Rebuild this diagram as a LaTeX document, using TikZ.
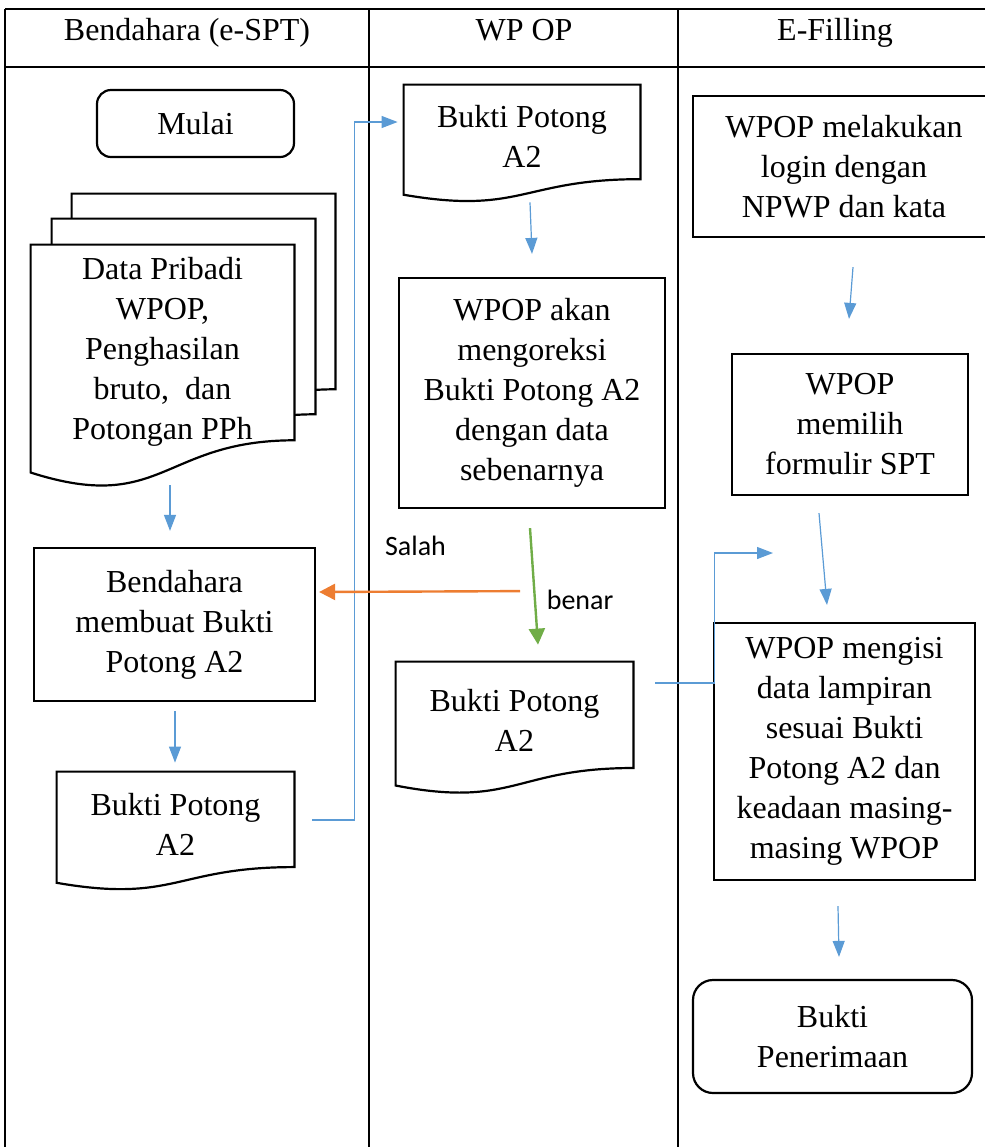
\documentclass[tikz,border=0pt]{standalone}
\usepackage{fontspec}
\setmainfont{Liberation Serif}
\newfontfamily\labelfont{Carlito}
\usetikzlibrary{arrows.meta, calc}
\definecolor{biru}{HTML}{5B9BD5}
\definecolor{oranye}{HTML}{ED7D31}
\definecolor{hijau}{HTML}{70AD47}
\pgfdeclarelayer{latar}
\pgfsetlayers{latar,main}
\tikzset{
	teks/.style={align=center, font=\fontsize{16}{20}\selectfont, inner sep=0pt}, % isi kotak
	kotak/.style={teks, draw, line width=1.1pt}, % kotak proses
	terminal/.style={kotak, rounded corners=7pt}, % mulai / selesai
	dokumen/.style={teks}, % tepinya digambar di lapisan latar
	judul/.style={teks, anchor=base}, % kepala kolom
	garis/.style={line width=1.1pt},
	tabel/.style={line width=0.8pt},
	panah/.style={draw=biru, line width=0.6pt, -{Triangle[length=8pt, width=6pt]}},
	panahtebal/.style={line width=1.2pt, -{Triangle[length=8pt, width=8pt]}},
	ket/.style={font=\labelfont\fontsize{14}{16}\selectfont},
}
\begin{document}
\begin{tikzpicture}[x=0.5pt, y=-0.5pt]
	\useasboundingbox (0,0) rectangle (985,1147);
	% tabel
	\draw[tabel] (5,9) -- (990,9) (5,67) -- (990,67);
	\draw[tabel] (5,9) -- (5,1150) (369,9) -- (369,1150) (678,9) -- (678,1150);
	\node[judul] (h1) at (187,40) {Bendahara (e-SPT)};
	\node[judul] (h2) at (524,40) {WP OP};
	\node[judul] (h3) at (835,40) {E-Filling};

	% Bendahara
	\node[terminal, minimum width=98.5pt, minimum height=33.5pt] (mulai) at (195.5,123.5) {Mulai};
	\node[dokumen, minimum width=131.5pt, minimum height=107pt] (data3) at (203.5,301) {};
	\node[dokumen, minimum width=131.5pt, minimum height=107pt] (data2) at (183.5,326) {};
	\node[dokumen, minimum width=131.5pt, minimum height=107pt] (data1) at (162.5,352) {Data Pribadi\\WPOP,\\Penghasilan\\bruto,\ \ dan\\Potongan PPh};
	\node[kotak, minimum width=140.5pt, minimum height=76.5pt] (bendahara) at (174.5,624.5) {Bendahara\\membuat Bukti\\Potong A2};
	\node[dokumen, minimum width=118.5pt, minimum height=52pt] (bpa) at (175.5,824) {Bukti Potong\\A2};

	% WP OP
	\node[dokumen, minimum width=118pt, minimum height=51.5pt] (bpb) at (522,136.5) {Bukti Potong\\A2};
	\node[kotak, minimum width=133pt, minimum height=115pt] (koreksi) at (532,393) {WPOP akan\\mengoreksi\\Bukti Potong A2\\dengan data\\sebenarnya};
	\node[dokumen, minimum width=118.5pt, minimum height=58pt] (bpc) at (514.5,720) {Bukti Potong\\A2};

	% E-Filling
	\node[kotak, minimum width=151pt, minimum height=70.5pt] (login) at (844,166.5) {WPOP melakukan\\login dengan\\NPWP dan kata};
	\node[kotak, minimum width=118pt, minimum height=70.5pt] (memilih) at (850,424.5) {WPOP\\memilih\\formulir SPT};
	\node[kotak, minimum width=130.5pt, minimum height=128.5pt] (mengisi) at (844.5,751.5) {WPOP mengisi\\data lampiran\\sesuai Bukti\\Potong A2 dan\\keadaan masing-\\masing WPOP};
	\node[terminal, rounded corners=10pt, minimum width=139.5pt, minimum height=56.5pt] (terima) at (832.5,1036.5) {Bukti\\Penerimaan};
	\coordinate (ujung) at (773,553);

	% tepi dokumen (bawah bergelombang)
	\begin{pgfonlayer}{latar}
		\foreach \d in {data3,data2,data1,bpa,bpb,bpc}
			\draw[garis, fill=white] (\d.north west) -- (\d.north east) -- ($(\d.north east)!0.911!(\d.south east)$)
				.. controls ($(\d.north)!0.911!(\d.south)$) and ($(\d.north)!1.258!(\d.south)$) .. ($(\d.north west)!1.061!(\d.south west)$) -- cycle;
	\end{pgfonlayer}

	% alur
	\draw[panah] ($(data1.south)+(7.5,26)$) -- ($(bendahara.north)+(-4.5,-16)$);
	\draw[panah] ($(bendahara.south)+(0.5,9)$) -- ($(bpa.north)+(-0.5,-9)$);
	\draw[panah] ($(bpa.east)+(18,-4)$) -- ++(42,0) |- ($(bpb.west)+(-6,-14.5)$);
	\draw[panah] ($(bpb.south)+(8,14)$) -- ($(koreksi.north)+(0,-23)$);
	\draw[panahtebal, hijau] ($(koreksi.south)+(-2,19)$) -- node[ket, pos=0.62, right=2pt, text=black] (benar) {benar} ($(bpc.north)+(23.5,-17)$);
	\draw[panahtebal, oranye] ($(koreksi.south)+(-12,82)$) -- node[ket, pos=0.52, above=14pt, text=black] (salah) {Salah} ($(bendahara.east)+(3,-32.5)$);
	\draw[panah] ($(bpc.east)+(22,-37)$) -- ++(59,0) |- (ujung);
	\draw[panah] ($(login.south)+(9,29)$) -- ($(memilih.north)+(-1,-34)$);
	\draw[panah] ($(memilih.south)+(-31,17)$) -- ($(mengisi.north)+(-17.5,-17)$);
	\draw[panah] ($(mengisi.south)+(-6.5,25)$) -- ($(terima.north)+(6.5,-22)$);
\end{tikzpicture}
\end{document}
